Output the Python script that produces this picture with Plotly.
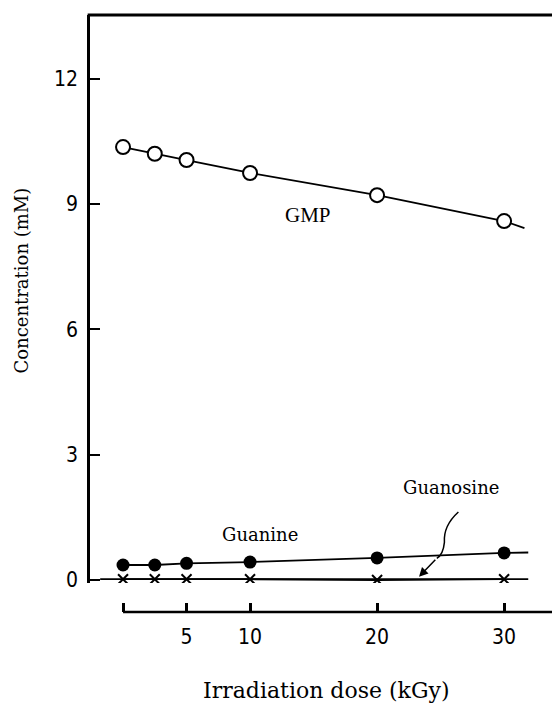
import plotly.graph_objects as go

dose = [0, 2.5, 5, 10, 20, 30]
gmp = [10.36, 10.2, 10.05, 9.74, 9.21, 8.59]
guanine = [0.36, 0.36, 0.4, 0.43, 0.53, 0.65]
guanosine = [0.02, 0.02, 0.02, 0.02, 0.0, 0.02]

# trend-line tails
gmp_tail_x = [30, 31.6]
gmp_tail_y = [8.59, 8.42]
guanine_tail_x = [30, 31.9]
guanine_tail_y = [0.65, 0.66]
guanosine_tail_x = [-1.8, 0, 30, 31.9]
guanosine_tail_y = [0.02, 0.02, 0.02, 0.02]

y_ticks = [0, 3, 6, 9, 12]
x_ticks = [0, 5, 10, 20, 30]
x_ticktext = ["", "5", "10", "20", "30"]

tickfont = dict(family="Liberation Sans Narrow, DejaVu Sans Condensed, sans-serif", size=21, color="black")
serif = "DejaVu Serif, serif"

fig = go.Figure()
line = dict(color="black", width=1.8)

fig.add_trace(go.Scatter(x=guanosine_tail_x, y=guanosine_tail_y, mode="lines", line=line, showlegend=False))
fig.add_trace(go.Scatter(x=gmp_tail_x, y=gmp_tail_y, mode="lines", line=line, showlegend=False))
fig.add_trace(go.Scatter(x=guanine_tail_x, y=guanine_tail_y, mode="lines", line=line, showlegend=False))

fig.add_trace(go.Scatter(x=dose, y=guanosine, mode="lines+markers", line=line,
                         marker=dict(symbol="x-thin", size=10, line=dict(color="black", width=2)),
                         showlegend=False))
fig.add_trace(go.Scatter(x=dose, y=guanine, mode="lines+markers", line=line,
                         marker=dict(symbol="circle", size=13, color="black"),
                         showlegend=False))
fig.add_trace(go.Scatter(x=dose, y=gmp, mode="lines+markers", line=line,
                         marker=dict(symbol="circle", size=14, color="white", line=dict(color="black", width=2)),
                         showlegend=False))

# page body adds an 8px margin, so the figure is sized to compensate
fig.update_layout(
    width=552, height=701,
    margin=dict(l=82, r=0, t=7, b=97),
    paper_bgcolor="white", plot_bgcolor="white",
    xaxis=dict(range=[-2.6, 34.4], anchor="free", position=0, showline=False, automargin=False,
               showgrid=False, zeroline=False, ticks="inside", ticklen=9, tickwidth=2.5,
               tickcolor="black", tickvals=x_ticks, ticktext=x_ticktext, tickfont=tickfont,
               ticklabelstandoff=10),
    yaxis=dict(range=[-0.07, 13.52], domain=[0.0486, 1], showline=True, linecolor="black",
               linewidth=2.5, showgrid=False, zeroline=False, ticks="inside", ticklen=10,
               tickwidth=2, tickcolor="black", tickvals=y_ticks, tickfont=tickfont,
               ticklabelstandoff=5, automargin=False),
)

# frame pieces
fig.add_shape(type="line", xref="paper", yref="paper", x0=-0.005, x1=1, y0=1, y1=1,
              line=dict(color="black", width=3))
fig.add_shape(type="line", xref="x", yref="paper", x0=0, x1=34.4, y0=0, y1=0,
              line=dict(color="black", width=2.5))

# axis titles
fig.add_annotation(xref="paper", yref="paper", x=-0.1724, y=0.556, text="Concentration (mM)",
                   textangle=-90, showarrow=False, font=dict(family=serif, size=18, color="black"))
fig.add_annotation(xref="paper", yref="paper", x=0.504, y=-0.156, text="Irradiation dose (kGy)",
                   showarrow=False, font=dict(family=serif, size=22, color="black"))

# labels
fig.add_annotation(x=14.6, y=8.73, text="GMP", showarrow=False,
                   font=dict(family="Liberation Serif, serif", size=21, color="black"))
fig.add_annotation(x=10.8, y=1.08, text="Guanine", showarrow=False, font=dict(family=serif, size=18, color="black"))
fig.add_annotation(x=25.8, y=2.22, text="Guanosine", showarrow=False, font=dict(family=serif, size=18, color="black"))

# curved pointer
fig.add_shape(type="path", xref="x", yref="y",
              path="M 26.4,1.63 Q 25.2,1.3 25.3,0.9 Q 25.2,0.6 24.7,0.52",
              line=dict(color="black", width=1.5))
fig.add_annotation(x=23.3, y=0.08, ax=24.7, ay=0.52, axref="x", ayref="y", xref="x", yref="y",
                   showarrow=True, arrowhead=2, arrowsize=1.2, arrowwidth=1.5, arrowcolor="black", text="")

fig.write_html("out.html")
